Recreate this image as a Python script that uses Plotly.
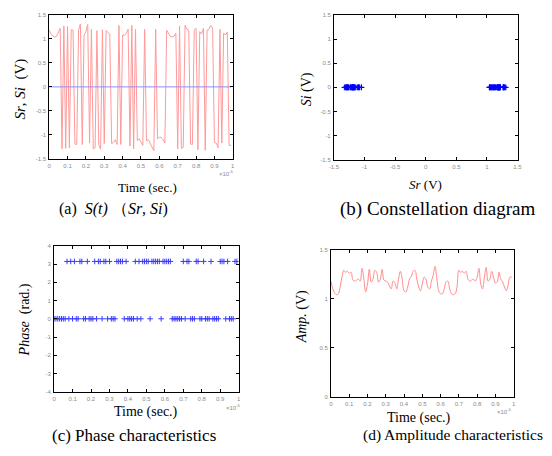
import plotly.graph_objects as go
import math

W, H = 552, 456

# ---------------- data ----------------
# time axis in units of 1e-6 s (100 samples)
time_us = [k / 100 for k in range(100)]

# phase of each sample: 0 -> 0 rad, 1 -> pi rad
phase_bits = [0, 0, 0, 0, 0, 0, 0,
              1, 0, 1, 0, 1,
              0, 0, 1, 1, 0, 0, 1, 0, 0, 0,
              1, 0, 1, 1, 0, 1, 1, 0, 1,
              0, 0, 0, 1, 1, 1, 1, 0, 1,
              0, 0, 0, 0, 1, 0, 1, 0,
              1, 1, 1, 1, 0, 1, 1, 1, 1, 1, 0,
              1, 1, 1, 1, 1,
              0, 0, 0, 0, 0, 0,
              1, 0, 1, 1, 0, 0, 0, 1, 1, 0, 0, 1,
              0, 0, 0, 1, 0, 0, 0, 0,
              1, 1, 1, 0, 1, 0, 0, 0, 1, 1]

# amplitude envelope (V)
amp_v = [1.18, 1.10, 1.06, 1.04, 1.05, 1.12, 1.22, 1.29, 1.27, 1.28,
         1.26, 1.27, 1.19, 1.18, 1.19, 1.20, 1.18, 1.31, 1.20, 1.07,
         1.15, 1.30, 1.17, 1.20, 1.29, 1.27, 1.17, 1.20, 1.30, 1.19,
         1.18, 1.17, 1.13, 1.10, 1.18, 1.16, 1.10, 1.20, 1.28, 1.20,
         1.08, 1.07, 1.12, 1.20, 1.23, 1.28, 1.29, 1.20, 1.12, 1.08,
         1.15, 1.22, 1.20, 1.12, 1.10, 1.18, 1.24, 1.33, 1.20, 1.08,
         1.05, 1.05, 1.10, 1.17, 1.18, 1.10, 1.05, 1.04, 1.05, 1.12,
         1.29, 1.27, 1.28, 1.26, 1.28, 1.20, 1.18, 1.19, 1.20, 1.18,
         1.22, 1.31, 1.15, 1.10, 1.22, 1.32, 1.18, 1.20, 1.28, 1.22,
         1.16, 1.17, 1.27, 1.20, 1.17, 1.12, 1.08, 1.14, 1.22, 1.22]

# quadrature component (V)
si_v = [0.0] * 100

time_ticks = [0, 0.1, 0.2, 0.3, 0.4, 0.5, 0.6, 0.7, 0.8, 0.9, 1]
time_tick_text = ["0", "0.1", "0.2", "0.3", "0.4", "0.5", "0.6", "0.7", "0.8", "0.9", "1"]
volt_ticks = [-1.5, -1, -0.5, 0, 0.5, 1, 1.5]
volt_tick_text = ["-1.5", "-1", "-0.5", "0", "0.5", "1", "1.5"]
phase_ticks = [-4, -3, -2, -1, 0, 1, 2, 3, 4]
amp_ticks = [0, 0.5, 1, 1.5]
amp_tick_text = ["0", "0.5", "1", "1.5"]

# derived values
phase_rad = [b * math.pi for b in phase_bits]
sr_v = [a * math.cos(p) for a, p in zip(amp_v, phase_rad)]

# ---------------- helpers ----------------
def dx(a, b):
    return [a / W, b / W]

def dy(top, bottom):
    return [1 - bottom / H, 1 - top / H]

def px(x):
    return x / W

def py(y):
    return 1 - y / H

SERIF = "Liberation Serif, Times New Roman, serif"
TICKFONT = dict(family="Liberation Sans, Arial, sans-serif", size=6, color="#8a8a8a")

def axis_style(domain, rng, tickvals, ticktext, anchor):
    return dict(domain=domain, range=rng, tickvals=tickvals, ticktext=ticktext,
                anchor=anchor, showline=True, linecolor="black", linewidth=1,
                mirror="ticks", ticks="inside", ticklen=3, tickcolor="black",
                tickwidth=1, showgrid=False, zeroline=False, tickfont=TICKFONT,
                ticklabelstandoff=1)

fig = go.Figure()

# (a) Sr, Si vs time
fig.add_trace(go.Scatter(x=time_us, y=sr_v, mode="lines",
                         line=dict(color="#ff9a9a", width=1), xaxis="x", yaxis="y",
                         showlegend=False))
fig.add_trace(go.Scatter(x=time_us, y=si_v, mode="lines",
                         line=dict(color="#8c8cff", width=1), xaxis="x", yaxis="y",
                         showlegend=False))

# (b) constellation
fig.add_trace(go.Scatter(x=sr_v, y=si_v, mode="markers",
                         marker=dict(symbol="cross-thin", size=4, line=dict(color="#0000ff", width=1)),
                         xaxis="x2", yaxis="y2", showlegend=False))

# (c) phase
fig.add_trace(go.Scatter(x=time_us, y=phase_rad, mode="markers",
                         marker=dict(symbol="cross-thin", size=4, line=dict(color="#3a3aff", width=1)),
                         xaxis="x3", yaxis="y3", showlegend=False))

# (d) amplitude
fig.add_trace(go.Scatter(x=time_us, y=amp_v, mode="lines", line_shape="spline",
                         line=dict(color="#ff8c8c", width=1), xaxis="x4", yaxis="y4",
                         showlegend=False))

fig.update_layout(
    width=W, height=H, margin=dict(l=0, r=0, t=0, b=0),
    paper_bgcolor="white", plot_bgcolor="white",
    xaxis=axis_style(dx(45, 232), [0, 1], time_ticks, time_tick_text, "y"),
    yaxis=axis_style(dy(12, 158), [-1.5, 1.5], volt_ticks, volt_tick_text, "x"),
    xaxis2=axis_style(dx(335, 522), [-1.5, 1.5], volt_ticks, volt_tick_text, "y2"),
    yaxis2=axis_style(dy(12, 159), [-1.5, 1.5], volt_ticks, volt_tick_text, "x2"),
    xaxis3=axis_style(dx(50, 238), [0, 1], time_ticks, time_tick_text, "y3"),
    yaxis3=axis_style(dy(246, 394), [-4, 4], phase_ticks, [str(v) for v in phase_ticks], "x3"),
    xaxis4=axis_style(dx(332, 518), [0, 1], time_ticks, time_tick_text, "y4"),
    yaxis4=axis_style(dy(250, 399), [0, 1.5], amp_ticks, amp_tick_text, "x4"),
)

def note(x, y, text, size, angle=0, color="black", family=SERIF):
    fig.add_annotation(x=px(x), y=py(y), xref="paper", yref="paper", text=text,
                       showarrow=False, textangle=angle, xanchor="center", yanchor="middle",
                       font=dict(family=family, size=size, color=color))

# exponent labels
for xx, yy in [(226, 172), (233, 409), (509, 413)]:
    note(xx, yy, "×10<sup>-6</sup>", 6, color="#8a8a8a", family="Liberation Sans, Arial, sans-serif")

# axis titles
note(16, 87, "<i>Sr</i>, <i>Si</i>  (V)", 15, angle=-90)
note(145, 187, "Time (sec.)", 13)
note(307, 87, "<i>Si</i> (V)", 14, angle=-90)
note(428, 184, "<i>Sr</i> (V)", 13)
note(20, 321, "<i>Phase</i>  (rad.)", 14, angle=-90)
note(144, 414, "Time (sec.)", 14)
note(302, 318, "<i>Amp.</i> (V)", 14, angle=-90)
note(422, 421, "Time (sec.)", 14)

# captions
note(111, 209, "(a)  <i>S(t)</i> （<i>Sr</i>, <i>Si</i>)", 16)
note(440, 209, "(b) Constellation diagram", 19)
note(131, 438, "(c) Phase characteristics", 17)
note(456, 438, "(d) Amplitude characteristics", 15.5)

fig.write_html("out.html")
